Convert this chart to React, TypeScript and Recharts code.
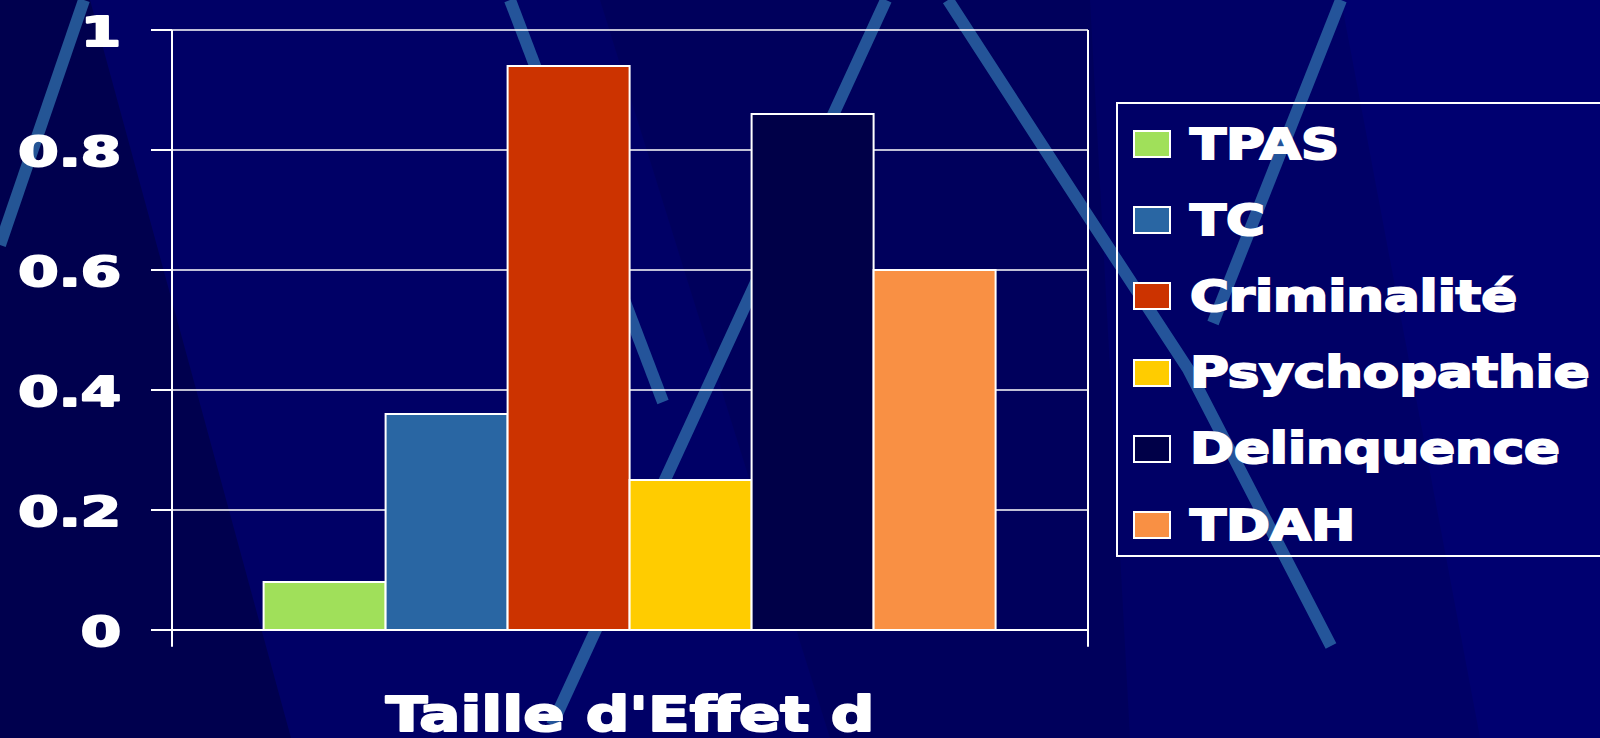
import React from 'react';
import { BarChart, Bar, XAxis, YAxis, CartesianGrid, Legend, ReferenceLine } from 'recharts';

const categories = ["Taille d'Effet d"];
const seriesNames = ['TPAS', 'TC', 'Criminalité', 'Psychopathie', 'Delinquence', 'TDAH'];
const seriesValues = [0.08, 0.36, 0.94, 0.25, 0.86, 0.6];
const seriesColors = ['#A0E05A', '#2966A3', '#CC3300', '#FFCC00', '#000048', '#F99044'];
const yTicks = [0, 0.2, 0.4, 0.6, 0.8, 1];
const yTickLabels = ['0', '0.2', '0.4', '0.6', '0.8', '1'];

const data = categories.map((c) => {
  const row: Record<string, any> = { category: c };
  seriesNames.forEach((n, i) => {
    row[n] = seriesValues[i];
  });
  return row;
});

const FONT = "'DejaVu Sans', 'Liberation Sans', sans-serif";
// frame tick marks below the zero line (in y-units, ~17px)
const FRAME_EXT = 0.028;

const YTick = (props: any) => {
  const { x, y, payload } = props;
  const idx = yTicks.indexOf(payload.value);
  const label = idx >= 0 ? yTickLabels[idx] : String(payload.value);
  return (
    <g transform={`translate(${x},${y + 16}) scale(1.45,1)`}>
      <text
        x={0}
        y={0}
        textAnchor="end"
        fill="#ffffff"
        stroke="#ffffff"
        strokeWidth={2}
        strokeLinejoin="round"
        fontSize={40}
        fontWeight="bold"
        fontFamily={FONT}
      >
        {label}
      </text>
    </g>
  );
};

const XLabel = (props: any) => {
  const vb = props.viewBox || { x: 172, y: 630, width: 916, height: 108 };
  const cx = vb.x + vb.width / 2;
  const y = vb.y + 101;
  return (
    <g transform={`translate(${cx},${y}) scale(1.27,1)`}>
      <text
        x={0}
        y={0}
        textAnchor="middle"
        fill="#ffffff"
        stroke="#ffffff"
        strokeWidth={2}
        strokeLinejoin="round"
        fontSize={48}
        fontWeight="bold"
        fontFamily={FONT}
      >
        {categories[0]}
      </text>
    </g>
  );
};

const renderLegend = () => {
  const items = seriesNames.map((n, i) => ({ name: n, color: seriesColors[i] }));
  return (
    <div
      style={{
        boxSizing: 'border-box',
        width: 520,
        height: 455,
        border: '2px solid #ffffff',
        paddingTop: 2,
        textAlign: 'left',
      }}
    >
      {items.map((it) => (
        <div key={it.name} style={{ height: 76.2, display: 'flex', alignItems: 'center' }}>
          <div
            style={{
              boxSizing: 'border-box',
              width: 38,
              height: 28,
              marginLeft: 15,
              background: it.color,
              border: '2px solid #ffffff',
              flex: '0 0 auto',
            }}
          />
          <span
            style={{
              display: 'inline-block',
              marginLeft: 19,
              fontFamily: FONT,
              fontWeight: 'bold',
              fontSize: 43,
              lineHeight: 1,
              color: '#ffffff',
              whiteSpace: 'nowrap',
              transform: 'scaleX(1.23)',
              transformOrigin: 'left center',
              WebkitTextStroke: '2px #ffffff',
            }}
          >
            {it.name}
          </span>
        </div>
      ))}
    </div>
  );
};

const Background = () => (
  <svg width={1600} height={738} style={{ position: 'absolute', left: 0, top: 0 }}>
    <rect x={0} y={0} width={1600} height={738} fill="#000066" />
    <polygon points="0,0 90,0 291,738 0,738" fill="#00004E" />
    <polygon points="600,0 1090,0 1130,738 830,738" fill="#00005A" opacity={0.8} />
    <polygon points="1341,0 1600,0 1600,738 1480,738" fill="#000070" />
    <g stroke="#2D6AA8" strokeWidth={12} fill="none" opacity={0.8}>
      <line x1={84} y1={0} x2={0} y2={245} />
      <line x1={510} y1={0} x2={663} y2={402} />
      <line x1={886} y1={0} x2={552} y2={725} />
      <polyline points="948,0 1086,213 1188,369 1331,646" />
      <line x1={1341} y1={0} x2={1213} y2={323} />
    </g>
  </svg>
);

export default function App() {
  return (
    <div
      style={{
        position: 'fixed',
        left: 0,
        top: 0,
        width: 1600,
        height: 738,
        overflow: 'hidden',
        background: '#000066',
      }}
    >
      <Background />
      <div style={{ position: 'absolute', left: 0, top: 0 }}>
        <BarChart
          width={1600}
          height={738}
          data={data}
          margin={{ top: 30, right: 512, bottom: 0, left: 0 }}
          barCategoryGap="10%"
          barGap={0}
        >
          <CartesianGrid stroke="#ffffff" strokeWidth={1.5} horizontal={true} vertical={false} />
          <XAxis
            dataKey="category"
            tick={false}
            tickLine={false}
            axisLine={{ stroke: '#ffffff', strokeWidth: 2 }}
            height={108}
            label={<XLabel />}
          />
          <YAxis
            domain={[0, 1]}
            ticks={yTicks}
            width={172}
            tickSize={21}
            tickMargin={30}
            tick={<YTick />}
            tickLine={{ stroke: '#ffffff', strokeWidth: 2 }}
            axisLine={{ stroke: '#ffffff', strokeWidth: 2 }}
            interval={0}
            allowDataOverflow
          />
          <ReferenceLine
            segment={[
              { x: categories[0], y: -FRAME_EXT },
              { x: categories[0], y: 1 },
            ]}
            position="start"
            ifOverflow="visible"
            stroke="#ffffff"
            strokeWidth={2}
          />
          <ReferenceLine
            segment={[
              { x: categories[0], y: -FRAME_EXT },
              { x: categories[0], y: 1 },
            ]}
            position="end"
            ifOverflow="visible"
            stroke="#ffffff"
            strokeWidth={2}
          />
          <Legend
            layout="horizontal"
            verticalAlign="middle"
            align="center"
            content={renderLegend}
            wrapperStyle={{ position: 'absolute', left: 1116, top: 102, width: 520, height: 455, margin: 0, padding: 0 }}
          />
          {seriesNames.map((n, i) => (
            <Bar
              key={n}
              dataKey={n}
              name={n}
              fill={seriesColors[i]}
              stroke="#ffffff"
              strokeWidth={2}
              isAnimationActive={false}
            />
          ))}
        </BarChart>
      </div>
    </div>
  );
}
